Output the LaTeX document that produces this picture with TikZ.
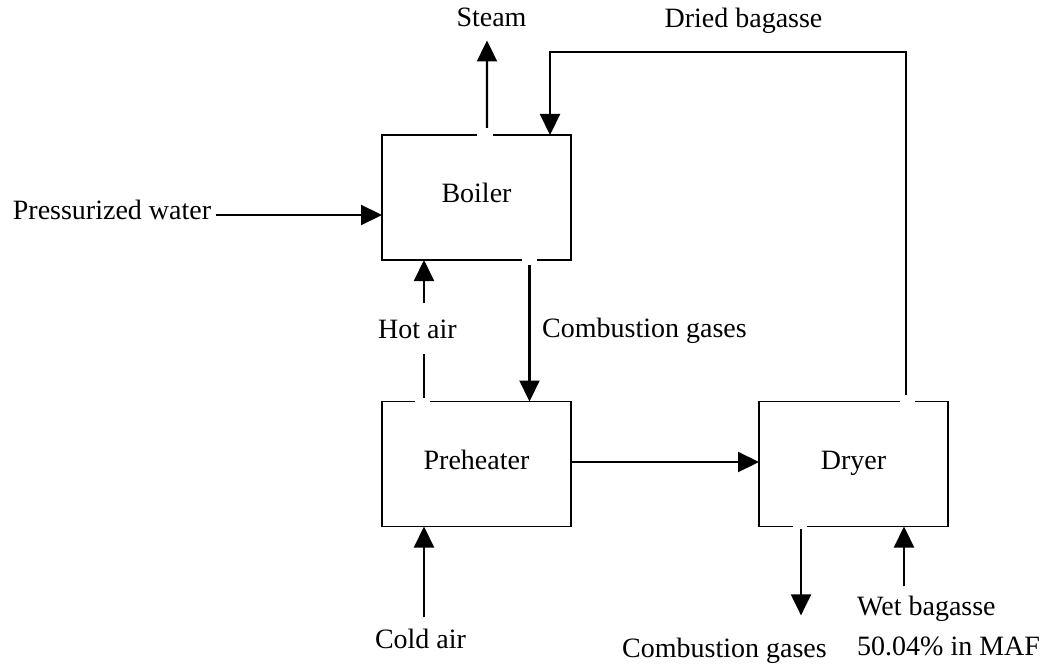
\documentclass[tikz,border=0pt]{standalone}
\usepackage{fontspec}
\setmainfont{Liberation Serif}
\usetikzlibrary{arrows.meta,calc}
\begin{document}
\begin{tikzpicture}[x=1bp,y=-1bp,
  every node/.style={font=\fontsize{28bp}{40bp}\selectfont},
  unit/.style={draw, line width=1.8bp, minimum width=189bp, minimum height=125bp,
    inner sep=0pt, outer sep=0pt, text height=19bp, text depth=8bp},
  lbl/.style={inner sep=0pt, anchor=base},
  flow/.style={line width=2.2bp},
  arr/.style={flow, -{Triangle[length=21bp,width=20bp]}},
  portgap/.style={draw=white, line width=4.5bp}
]
\useasboundingbox (0,0) rectangle (1053,668);

% process units
\node[unit] (boiler)    at (476.5,197.5) {Boiler};
\node[unit] (preheater) at (476.5,464)   {Preheater};
\node[unit] (dryer)     at (853.5,464)   {Dryer};

% openings in the unit walls where streams leave
\draw[portgap] ($(boiler.north)+(0.5,0)$) -- ++(16,0);
\draw[portgap] ($(boiler.south)+(45.5,0)$) -- ++(15,0);
\draw[portgap] ($(preheater.north)+(-61.5,0)$) -- ++(15,0);
\draw[portgap] ($(dryer.north)+(46.5,0)$) -- ++(15,0);
\draw[portgap] ($(dryer.south)+(-60.5,0)$) -- ++(14,0);

% stream labels
\node[lbl] (steam)   at (491.5,27)  {Steam};
\node[lbl] (dried)   at (743.5,28)  {Dried bagasse};
\node[lbl] (water)   at (112,219)   {Pressurized water};
\node[lbl, inner ysep=16bp] (hotair) at (417.5,338) {Hot air};
\node[lbl, anchor=base west] (combmid) at (542,337) {Combustion gases};
\node[lbl] (cold)    at (420.5,648) {Cold air};
\node[lbl] (combout) at (724.5,657) {Combustion gases};
\node[lbl, anchor=base west, align=left] (wet) at (857,655) {Wet bagasse\\50.04\% in MAF};

% steam
\coordinate (steambase) at ($(boiler.north)+(10.5,-7)$);
\coordinate (steamtop)  at ($(steam.south)+(-4.5,13)$);
\draw[arr] (steambase) -- (steamtop);

% dried bagasse recycle
\coordinate (dryout) at ($(dryer.north)+(52.5,-7)$);
\coordinate (bagin)  at ($(boiler.north)+(73.5,0)$);
\draw[arr] (dryout) |- ($(bagin)+(0,-83)$) -- (bagin);

% pressurized water
\coordinate (wstart) at ($(water.base east)+(5,-4)$);
\draw[arr] (wstart) -- (wstart -| boiler.west);

% hot air
\coordinate (hotx) at ($(preheater.north)+(-52.5,0)$);
\draw[flow] ($(hotx)+(0,-4)$) -- (hotair.south -| hotx);
\draw[arr] (hotair.north -| hotx) -- (hotx |- boiler.south);

% combustion gases from boiler to preheater
\coordinate (combx) at ($(boiler.south)+(53,5)$);
\draw[arr] (combx) -- (combx |- preheater.north);

% preheater to dryer
\draw[arr] ($(preheater.east)+(0,-2)$) -- ($(dryer.west)+(0,-2)$);

% cold air
\coordinate (coldx) at ($(preheater.south)+(-52.5,0)$);
\draw[arr] ($(coldx |- cold.north)+(0,-11)$) -- (coldx);

% combustion gases leaving the dryer
\coordinate (cbx) at ($(dryer.south)+(-52.5,2)$);
\draw[arr] (cbx) -- ($(cbx |- combout.north)+(0,-22)$);

% wet bagasse feed
\coordinate (wetx) at ($(dryer.south)+(50.5,0)$);
\draw[arr] ($(wetx |- wet.north)+(0,-9)$) -- (wetx);
\end{tikzpicture}
\end{document}
